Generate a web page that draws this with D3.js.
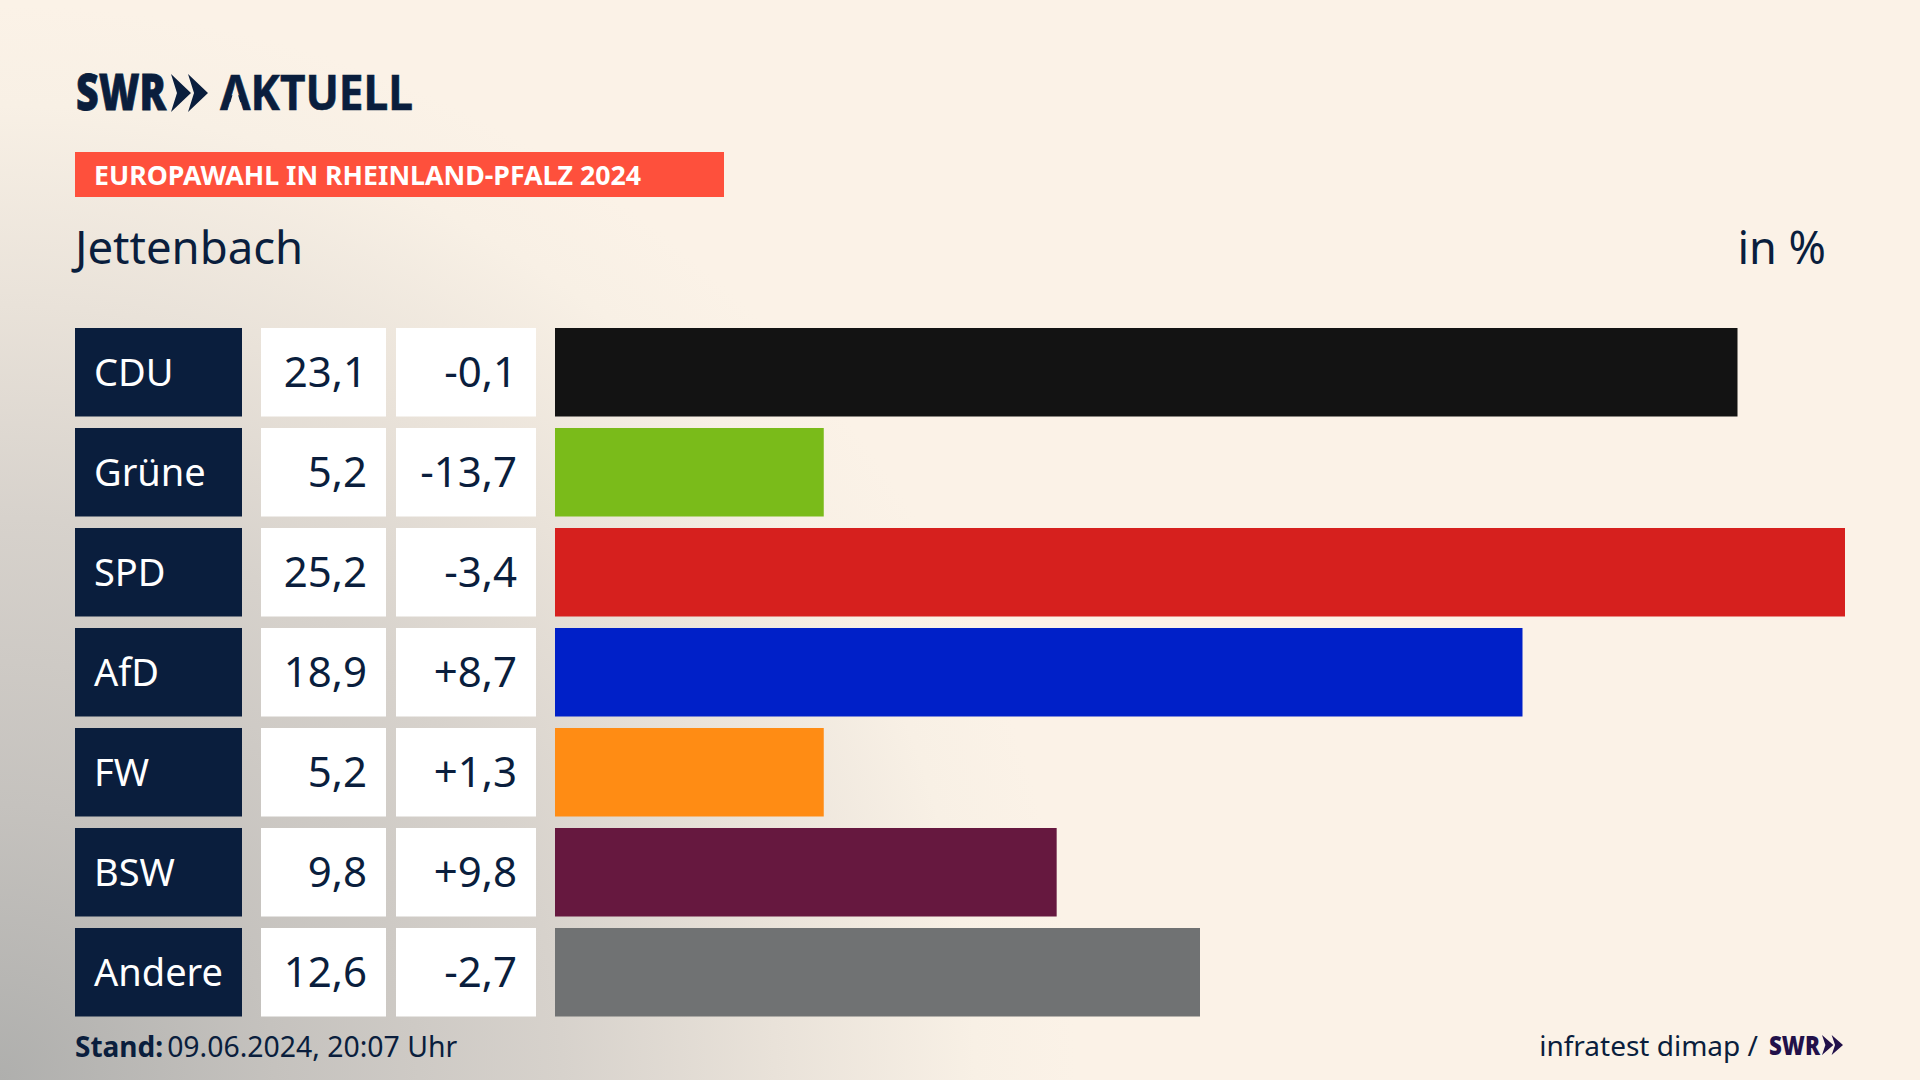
<!DOCTYPE html>
<html><head><meta charset="utf-8">
<script src="https://cdn.jsdelivr.net/npm/d3@7/dist/d3.min.js"></script>
<style>html,body{margin:0;padding:0;background:#fbf2e7;overflow:hidden}svg{display:block}text{font-family:"Noto Sans",sans-serif}</style>
</head><body><svg id="c" width="1920" height="1080"></svg>
<script>
const parties=["CDU","Grüne","SPD","AfD","FW","BSW","Andere"];
const shares=[23.1,5.25,25.2,18.9,5.25,9.8,12.6];
const shareLabels=["23,1","5,2","25,2","18,9","5,2","9,8","12,6"];
const deltaLabels=["-0,1","-13,7","-3,4","+8,7","+1,3","+9,8","-2,7"];
const colors=["#131313","#7abb1a","#d6201e","#0020c8","#ff8c14","#66183f","#707273"];
const NAVY="#0a1e3d";
const svg=d3.select("#c");
const defs=svg.append("defs");
const g=defs.append("radialGradient").attr("id","bg").attr("gradientUnits","userSpaceOnUse")
 .attr("cx",0).attr("cy",1080).attr("r",1250);
[[0,"#afafad"],[.22,"#c5c2be"],[.45,"#d7d2cc"],[.62,"#e9e2d9"],[.78,"#f8f0e5"],[.86,"#fbf2e7"],[1,"#fbf2e7"]].forEach(s=>g.append("stop").attr("offset",s[0]).attr("stop-color",s[1]));
svg.append("rect").attr("width",1920).attr("height",1080).attr("fill","url(#bg)");

const x=d3.scaleLinear().domain([0,25.2]).range([555,1845]);
const y=d3.scaleBand().domain(parties).range([328,1016.5]).paddingInner(.115);
const rows=svg.selectAll("g.row").data(parties).join("g").attr("class","row").attr("transform",d=>`translate(0,${y(d)})`);
const h=y.bandwidth();
rows.append("rect").attr("x",75).attr("width",167).attr("height",h).attr("fill",NAVY);
rows.append("rect").attr("x",261).attr("width",125).attr("height",h).attr("fill","#fff");
rows.append("rect").attr("x",396).attr("width",140).attr("height",h).attr("fill","#fff");
rows.append("rect").attr("x",x(0)).attr("width",(d,i)=>x(shares[i])-x(0)).attr("height",h).attr("fill",(d,i)=>colors[i]);
rows.append("text").attr("x",94).attr("y",58).attr("font-size",38).attr("fill","#fff").text(d=>d);
rows.append("text").attr("x",367).attr("y",59).attr("font-size",42).attr("text-anchor","end").attr("fill",NAVY).text((d,i)=>shareLabels[i]);
rows.append("text").attr("x",517).attr("y",59).attr("font-size",42).attr("text-anchor","end").attr("fill",NAVY).text((d,i)=>deltaLabels[i]);

svg.append("rect").attr("x",75).attr("y",152).attr("width",649).attr("height",45).attr("fill","#fe503c");
svg.append("text").attr("x",94).attr("y",185).attr("font-size",27).attr("font-weight",700).attr("fill","#fff").attr("textLength",547).attr("lengthAdjust","spacingAndGlyphs").text("EUROPAWAHL IN RHEINLAND-PFALZ 2024");
svg.append("text").attr("x",75).attr("y",264).attr("font-size",45.5).attr("fill",NAVY).text("Jettenbach");
svg.append("text").attr("x",1826).attr("y",264).attr("font-size",45).attr("text-anchor","end").attr("fill",NAVY).text("in %");

function chevrons(px,py,w,hh,col){
 const cw=w*.54, d=w-cw;
 [0,d].forEach(o=>svg.append("path").attr("fill",col).attr("d",d3.line()([[px+o,py],[px+o+cw,py+hh/2],[px+o,py+hh],[px+o+cw*.3,py+hh/2]])+"Z"));
}
svg.append("text").attr("x",76).attr("y",110).attr("font-size",49).attr("font-weight",900).attr("fill",NAVY).attr("stroke",NAVY).attr("stroke-width",.8).attr("textLength",90).attr("lengthAdjust","spacingAndGlyphs").text("SWR");
chevrons(171,74,37,38,NAVY);
const ak=svg.append("text").attr("x",220).attr("y",110).attr("font-size",49).attr("font-weight",700).attr("fill",NAVY).attr("stroke",NAVY).attr("stroke-width",.6).attr("textLength",193).attr("lengthAdjust","spacingAndGlyphs").text("AKTUELL");
const ab=ak.node().getExtentOfChar(0);
const cl=ab.x, cr=ab.x+ab.width, cx=(cl+cr)/2, leg=(cr-cl)*.24;
defs.append("clipPath").attr("id","noBar").append("path").attr("clip-rule","evenodd")
 .attr("d",`M200 60H440V130H200Z M${cx} 86L${cl+leg} 112H${cr-leg}Z`);
ak.attr("clip-path","url(#noBar)");

const st=svg.append("text").attr("x",75).attr("y",1057).attr("font-size",28).attr("fill",NAVY);
st.append("tspan").attr("font-weight",700).text("Stand:");
st.append("tspan").attr("dx",4).attr("font-size",28.4).text("09.06.2024, 20:07 Uhr");
svg.append("text").attr("x",1758).attr("y",1056).attr("font-size",28).attr("text-anchor","end").attr("fill",NAVY).text("infratest dimap /");
svg.append("text").attr("x",1769).attr("y",1055).attr("font-size",27).attr("font-weight",900).attr("fill","#22114a").attr("textLength",51).attr("lengthAdjust","spacingAndGlyphs").text("SWR");
chevrons(1822,1035,21,20,"#22114a");
</script></body></html>
